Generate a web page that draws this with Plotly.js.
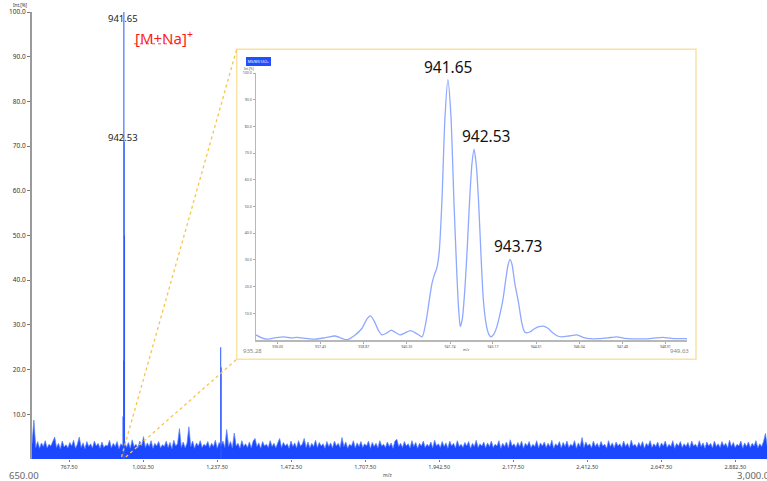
<!DOCTYPE html>
<html>
<head>
<meta charset="utf-8">
<script src="https://cdn.plot.ly/plotly-3.0.1.min.js"></script>
<style>html,body{margin:0;padding:0;background:#fff;}#chart{width:767px;height:481px;}</style>
</head>
<body>
<div id="chart"></div>
<script>
// ---------- DATA ----------
// Full-range spectrum noise floor (m/z sampled on a regular grid)
const noiseStart = 650;
const noiseStep = 6;
const noiseInt = [
3.4,8.7,2.6,3.9,2.4,3.6,2.8,4.1,2.5,3.3,
2.9,3.8,4.9,2.6,3.5,2.3,4.0,2.7,3.2,2.5,
3.7,2.9,4.2,2.4,3.3,4.9,2.6,3.6,2.3,3.9,
2.8,3.4,2.5,4.0,2.9,3.5,2.4,3.8,2.6,3.1,
2.9,4.2,2.5,3.5,2.8,3.9,2.3,3.4,2.9,4.1,
2.6,3.7,2.4,4.3,2.8,3.3,2.5,4.0,2.9,5.0,
2.6,3.6,2.8,4.1,2.4,3.5,2.9,3.9,2.5,3.2,
2.8,4.0,2.6,3.7,2.3,4.2,2.9,3.4,6.8,2.6,
3.8,2.5,3.5,7.2,2.8,4.0,2.4,3.6,2.9,4.1,
2.6,3.3,2.9,3.9,2.5,3.5,2.8,4.2,2.4,3.7,
2.9,4.0,2.6,6.6,2.8,3.9,2.5,5.8,2.9,3.5,
2.4,4.1,2.8,3.4,2.6,3.8,2.5,4.0,4.6,2.8,
3.6,2.4,3.9,2.9,3.3,2.6,4.1,2.8,3.5,2.5,
3.8,4.6,2.6,3.7,2.9,3.4,2.4,4.0,2.8,3.6,
2.5,4.1,2.9,3.3,4.6,2.6,3.8,2.5,3.5,2.8,
4.2,2.6,3.7,2.9,3.4,2.4,3.9,2.8,3.6,2.5,
4.0,2.9,3.5,2.6,4.8,2.8,3.8,2.4,3.3,2.9,
4.1,2.5,3.6,2.8,3.9,2.6,3.4,2.9,4.0,2.4,
3.7,2.8,3.5,2.5,4.1,2.9,3.3,2.6,3.8,2.8,
3.6,2.4,4.0,4.4,2.8,3.5,2.6,3.9,2.9,3.4,
2.5,4.1,2.8,3.7,2.4,3.5,2.9,4.0,2.6,3.3,
2.8,3.8,2.5,4.2,2.9,3.4,2.6,3.9,2.8,3.6,
2.4,4.0,2.9,3.5,2.5,4.1,2.8,3.3,2.6,3.7,
2.9,3.9,2.4,3.5,2.8,4.2,2.6,3.4,2.9,3.8,
2.5,3.6,2.8,4.0,2.6,3.3,2.9,4.1,2.4,3.5,
2.8,3.8,2.5,4.3,2.9,3.4,2.6,3.7,2.8,4.0,
2.4,3.5,2.9,3.9,2.6,3.3,2.8,4.1,2.5,3.6,
2.9,3.8,2.6,3.5,2.8,4.2,2.4,3.4,2.9,3.9,
2.5,3.7,2.8,4.0,2.6,3.3,2.9,4.1,2.4,3.6,
2.8,4.8,2.6,3.8,2.9,3.4,2.5,4.0,2.8,3.5,
2.6,3.9,2.9,3.3,2.4,4.1,2.8,3.6,2.5,3.8,
2.9,3.4,2.6,4.0,2.8,3.5,2.5,4.2,2.9,3.3,
2.6,3.7,2.8,3.9,2.4,3.5,2.9,4.1,2.6,3.4,
2.8,3.8,2.5,3.6,2.9,4.0,2.6,3.3,2.8,4.1,
2.4,3.5,2.9,3.9,2.6,3.4,2.8,3.7,2.5,4.0,
2.9,3.3,2.6,4.1,2.8,3.6,2.4,3.8,2.9,3.5,
2.5,4.0,2.8,3.4,2.6,3.9,2.9,3.5,2.5,4.2,
2.8,3.7,2.6,3.3,2.9,4.0,2.4,3.6,2.8,3.8,
2.6,3.5,2.9,4.1,2.5,3.4,2.8,3.9,5.7,2.8,
2.8
];

// Main-view peak sticks
const peakMz  = [938.90, 941.20, 941.65, 942.53, 943.73, 1249.0, 1250.5];
const peakInt = [9.5,    22.0,   100.0,  71.0,   50.0,   25.0,   20.5];

// Inset (zoomed profile 935.28 - 949.63)
const insetMz = [
935.28,935.45,935.65,935.95,936.20,936.45,936.65,936.95,937.26,937.60,
937.92,938.12,938.31,938.55,938.81,938.97,939.09,939.22,939.36,939.48,
939.63,939.78,939.93,940.08,940.25,940.42,940.60,940.81,940.95,941.05,
941.14,941.22,941.30,941.38,941.47,941.57,941.67,941.77,941.87,941.97,
942.03,942.08,942.15,942.24,942.32,942.39,942.47,942.54,942.61,942.69,
942.77,942.85,942.95,943.03,943.10,943.20,943.30,943.40,943.50,943.60,
943.67,943.74,943.81,943.90,944.02,944.12,944.20,944.25,944.40,944.55,
944.70,944.85,945.00,945.15,945.30,945.46,945.70,945.97,946.20,946.40,
946.70,947.00,947.29,947.55,947.80,948.06,948.40,948.60,948.83,949.10,
949.40,949.63];
const insetInt = [
1.9,0.9,0.3,0.9,1.2,0.8,1.0,0.6,0.3,0.9,
1.5,0.7,0.1,1.6,4.4,7.8,9.0,7.0,3.5,1.9,
2.6,3.7,2.8,1.9,2.7,3.5,2.6,1.2,7.5,15.0,
21.2,24.5,26.9,33.0,52.0,83.0,97.5,84.0,52.0,24.0,
11.0,5.0,8.0,20.0,36.0,52.0,66.0,71.5,66.0,52.0,
32.0,15.0,5.5,2.2,1.2,2.2,5.0,9.5,15.0,23.0,
28.0,30.2,28.0,21.0,14.0,7.0,3.5,2.8,3.0,4.2,
5.0,5.2,4.4,2.8,1.6,1.2,1.5,1.9,0.9,0.5,
0.5,0.8,1.2,0.6,0.4,0.4,0.5,0.8,1.0,0.6,
0.5,0.5];

const mainTicks  = [767.5,1002.5,1237.5,1472.5,1707.5,1942.5,2177.5,2412.5,2647.5,2882.5];
const insetTicks = [936.00,937.43,938.87,940.30,941.74,943.17,944.61,946.04,947.48,948.91];
const yTicks     = [10,20,30,40,50,60,70,80,90,100];
const peakLabels = ['941.65','942.53','943.73'];

// ---------- BUILD ----------
const noiseMz = noiseInt.map((_, i) => noiseStart + i * noiseStep);
const stickX = [], stickY = [];
peakMz.forEach((m, i) => { stickX.push(m, m, null); stickY.push(0, peakInt[i], null); });

// pixel -> paper helpers for decorations
const L = 32, W = 735, T = 12, H = 447, B = T + H;
const PX = x => (x - L) / W;
const PY = y => (B - y) / H;

const F = 'Noto Sans, Open Sans, DejaVu Sans, sans-serif';

const traces = [
  {x: noiseMz, y: noiseInt, type: 'scatter', mode: 'lines', xaxis: 'x', yaxis: 'y',
   line: {color: 'rgba(90,130,255,0.9)', width: 0.8}, fill: 'tozeroy', fillcolor: 'rgba(10,58,255,0.93)', hoverinfo: 'skip'},
  {x: stickX, y: stickY, type: 'scatter', mode: 'lines', xaxis: 'x', yaxis: 'y',
   line: {color: '#2a56ff', width: 1}, hoverinfo: 'skip'},
  {x: insetMz, y: insetInt, type: 'scatter', mode: 'lines', xaxis: 'x2', yaxis: 'y2',
   line: {color: '#8ea9ff', width: 1.3, shape: 'spline', smoothing: 0.6}, hoverinfo: 'skip'}
];

const ann = (text, x, y, size, color, extra) => Object.assign({
  text: text, xref: 'paper', yref: 'paper', x: PX(x), y: PY(y), showarrow: false,
  font: {family: F, size: size, color: color}, xanchor: 'center', yanchor: 'middle'
}, extra || {});

const layout = {
  width: 767, height: 481,
  margin: {l: L, r: 0, t: T, b: 481 - B, pad: 0},
  paper_bgcolor: '#fff', plot_bgcolor: 'rgba(0,0,0,0)',
  showlegend: false,
  font: {family: F},
  xaxis: {range: [650, 2983], tickvals: mainTicks, tickformat: ',.2f',
    ticks: 'outside', ticklen: 2, tickcolor: '#777', tickfont: {size: 5.5, color: '#444', family: F},
    showgrid: false, zeroline: false, showline: false, fixedrange: true},
  yaxis: {range: [0, 100], tickvals: yTicks, tickformat: '.1f',
    ticks: 'outside', ticklen: 3, tickcolor: '#777', tickfont: {size: 6.5, color: '#333', family: F},
    showline: true, linecolor: '#9a9a9a', linewidth: 2, showgrid: false, zeroline: false, fixedrange: true},
  xaxis2: {domain: [PX(256), PX(687)], anchor: 'y2', range: [935.28, 949.63],
    tickvals: insetTicks, ticktext: insetTicks.map(v => v.toFixed(2)),
    ticks: 'outside', ticklen: 2, tickcolor: '#aaa', tickfont: {size: 3.5, color: '#555', family: F},
    showline: true, linecolor: '#b8b8b8', linewidth: 1.5, showgrid: false, zeroline: false},
  yaxis2: {domain: [PY(340), PY(73)], anchor: 'x2', range: [0, 100],
    tickvals: yTicks, tickformat: '.1f',
    ticks: 'outside', ticklen: 2, tickcolor: '#aaa', tickfont: {size: 3.5, color: '#555', family: F},
    showline: true, linecolor: '#b8b8b8', linewidth: 1.5, showgrid: false, zeroline: false},
  shapes: [
    {type: 'rect', xref: 'paper', yref: 'paper', x0: PX(236.7), x1: PX(696), y0: PY(359.3), y1: PY(49.3),
     line: {color: '#f9e2a2', width: 1.5}, fillcolor: 'rgba(0,0,0,0)', layer: 'above'},
    {type: 'line', xref: 'paper', yref: 'paper', x0: PX(121.5), y0: PY(457), x1: PX(236.7), y1: PY(49.3),
     line: {color: '#f6c54a', width: 1.3, dash: '3px,3px'}},
    {type: 'line', xref: 'paper', yref: 'paper', x0: PX(125.8), y0: PY(457), x1: PX(236.7), y1: PY(359.3),
     line: {color: '#f6c54a', width: 1.3, dash: '3px,3px'}},
    {type: 'line', xref: 'paper', yref: 'paper', x0: PX(134), y0: PY(43.8), x1: PX(180), y1: PY(43.8),
     line: {color: 'rgba(230,40,40,0.8)', width: 1, dash: 'dot'}}
  ],
  annotations: [
    ann('Int.[%]', 20, 5, 4.6, '#333'),
    ann('650.00', 23.5, 475, 9.5, '#666'),
    ann('3,000.00', 735, 475.5, 9.5, '#666', {xanchor: 'left'}),
    ann('m/z', 388, 474.5, 5, '#444'),
    ann(peakLabels[0], 123.3, 18.8, 9.5, '#222'),
    ann(peakLabels[1], 123.3, 137, 9.5, '#222'),
    ann('[M+Na]<sup>+</sup>', 133, 37.5, 15, '#ff1a1a', {xanchor: 'left'}),
    // inset
    ann('MS/MS 532+', 258.3, 61.2, 3.6, '#ffffff', {bgcolor: '#1f4fff', bordercolor: '#1f4fff', borderpad: 0.8}),
    ann('Int.[%]', 248.5, 68.6, 3.2, '#555'),
    ann('935.28', 252.5, 351, 6, '#888'),
    ann('949.63', 679.5, 351, 6, '#888'),
    ann('m/z', 466, 349.5, 3.4, '#555'),
    ann(peakLabels[0], 448.3, 66.7, 15.5, '#111'),
    ann(peakLabels[1], 485.8, 135.8, 15.5, '#111'),
    ann(peakLabels[2], 518.3, 246.3, 15.5, '#111')
  ]
};

Plotly.newPlot('chart', traces, layout, {staticPlot: true, displayModeBar: false});
</script>
</body>
</html>
